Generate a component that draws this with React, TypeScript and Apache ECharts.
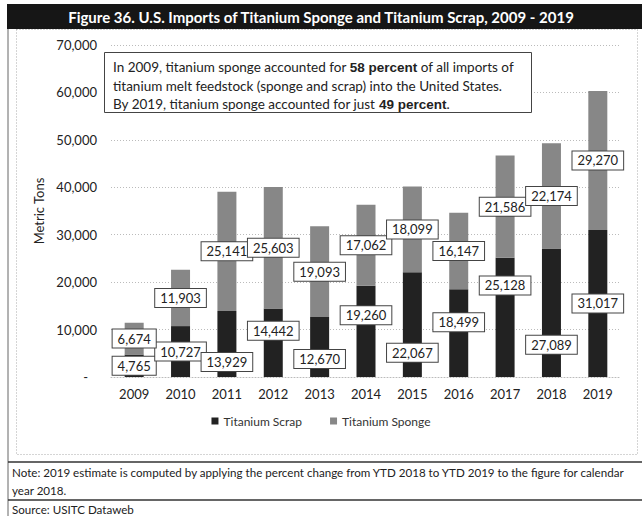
import React, { useEffect, useRef } from "react";
import * as echarts from "echarts";

const years = ["2009", "2010", "2011", "2012", "2013", "2014", "2015", "2016", "2017", "2018", "2019"];
const scrap = [4765, 10727, 13929, 14442, 12670, 19260, 22067, 18499, 25128, 27089, 31017];
const sponge = [6674, 11903, 25141, 25603, 19093, 17062, 18099, 16147, 21586, 22174, 29270];
// vertical nudges of the scrap value boxes (px), as placed in the original figure
const scrapLabelShift = [0, 0, 18, -12, 12, -16, 28, -11, -32, 32, 0];
const yTicks = { min: 0, max: 70000, interval: 10000 };

const FONT = "Lato, 'Noto Sans', sans-serif";
const titleText = "Figure 36. U.S. Imports of Titanium Sponge and Titanium Scrap, 2009 - 2019";
const noteLine1 = "Note: 2019 estimate is computed by applying the percent change from YTD 2018 to YTD 2019 to the figure for calendar";
const noteLine2 = "year 2018.";
const sourceText = "Source: USITC Dataweb";

const fmt = (v: number) => v.toLocaleString("en-US");

export default function App() {
  const ref = useRef<HTMLDivElement>(null);
  useEffect(() => {
    if (!ref.current) return;
    const chart = echarts.init(ref.current, undefined, { renderer: "svg" });
    const labelBase = {
      show: true,
      position: "inside" as const,
      formatter: (p: any) => fmt(p.value),
      backgroundColor: "#ffffff",
      borderColor: "#444",
      borderWidth: 1,
      padding: [3, 5, 2, 5],
      color: "#222",
      fontSize: 13,
      fontFamily: FONT,
    };
    chart.setOption({
      animation: false,
      textStyle: { fontFamily: FONT },
      grid: { left: 111, right: 21, top: 45, bottom: 139, containLabel: false },
      legend: {
        top: 410,
        left: "center",
        itemWidth: 7,
        itemHeight: 7,
        itemGap: 28,
        icon: "rect",
        textStyle: { fontSize: 12, color: "#333", fontFamily: FONT },
        data: ["Titanium Scrap", "Titanium Sponge"],
      },
      xAxis: {
        type: "category",
        data: years,
        axisLine: { show: true, lineStyle: { color: "#bbb", type: [1, 2] } },
        axisTick: { show: false },
        axisLabel: { color: "#222", fontSize: 13, margin: 10, fontFamily: FONT },
      },
      yAxis: {
        type: "value",
        min: yTicks.min,
        max: yTicks.max,
        interval: yTicks.interval,
        name: "Metric Tons",
        nameLocation: "middle",
        nameGap: 64,
        nameTextStyle: { color: "#222", fontSize: 13, fontFamily: FONT },
        axisLine: { show: false },
        axisTick: { show: false },
        axisLabel: {
          color: "#222",
          fontSize: 13,
          margin: 14,
          fontFamily: FONT,
          formatter: (v: number) => (v === 0 ? "{d|-}" : fmt(v)),
          rich: { d: { padding: [0, 9, 0, 0], fontSize: 13, color: "#222" } },
        },
        splitLine: { lineStyle: { color: "#bbb", type: [1, 2] } },
      },
      series: [
        {
          name: "Titanium Scrap",
          type: "bar",
          stack: "total",
          barWidth: 19,
          itemStyle: { color: "#222222" },
          label: labelBase,
          data: scrap.map((v, i) => ({ value: v, label: { offset: [0, scrapLabelShift[i]] } })),
        },
        {
          name: "Titanium Sponge",
          type: "bar",
          stack: "total",
          barWidth: 19,
          itemStyle: { color: "#878787" },
          label: labelBase,
          data: sponge,
        },
      ],
      graphic: [
        { type: "rect", shape: { x: 7, y: 4, width: 635, height: 25 }, style: { fill: "#161616" }, z: 10 },
        {
          type: "text",
          x: 321,
          y: 16.5,
          z: 11,
          style: {
            text: titleText,
            fill: "#fff",
            font: `bold 15px ${FONT}`,
            align: "center",
            verticalAlign: "middle",
          },
        },
        { type: "line", shape: { x1: 8, y1: 29, x2: 8, y2: 516 }, style: { stroke: "#666", lineWidth: 1 } },
        {
          type: "rect",
          shape: { x: 16.5, y: 29.5, width: 621, height: 425 },
          style: { fill: "none", stroke: "#aaa", lineWidth: 1, lineDash: [1, 2] },
          z: -1,
        },
        {
          type: "rect",
          shape: { x: 104.5, y: 52.5, width: 427, height: 60 },
          style: { fill: "#fff", stroke: "#444", lineWidth: 1 },
          z: 20,
        },
        {
          type: "text",
          x: 113,
          y: 58,
          z: 21,
          style: {
            text:
              "In 2009, titanium sponge accounted for {b|58 percent} of all imports of\ntitanium melt feedstock (sponge and scrap) into the United States.\nBy 2019, titanium sponge accounted for just {b|49 percent}.",
            fill: "#222",
            font: `13.5px ${FONT}`,
            lineHeight: 18.5,
            rich: { b: { fontWeight: "bold", fontSize: 13.5, fill: "#222", lineHeight: 18.5 } },
          },
        },
        { type: "line", shape: { x1: 8, y1: 462, x2: 642, y2: 462 }, style: { stroke: "#333", lineWidth: 1.5 } },
        { type: "line", shape: { x1: 8, y1: 500, x2: 642, y2: 500 }, style: { stroke: "#333", lineWidth: 1.5 } },
        {
          type: "text",
          x: 12,
          y: 472,
          style: { text: noteLine1, fill: "#222", font: `11.6px ${FONT}`, verticalAlign: "middle" },
        },
        {
          type: "text",
          x: 12,
          y: 490,
          style: { text: noteLine2, fill: "#222", font: `11.6px ${FONT}`, verticalAlign: "middle" },
        },
        {
          type: "text",
          x: 12,
          y: 509,
          style: { text: sourceText, fill: "#222", font: `11.6px ${FONT}`, verticalAlign: "middle" },
        },
      ],
    });
    return () => chart.dispose();
  }, []);
  return (
    <div
      ref={ref}
      style={{ position: "absolute", left: 0, top: 0, width: 642, height: 516, background: "#fff" }}
    />
  );
}
